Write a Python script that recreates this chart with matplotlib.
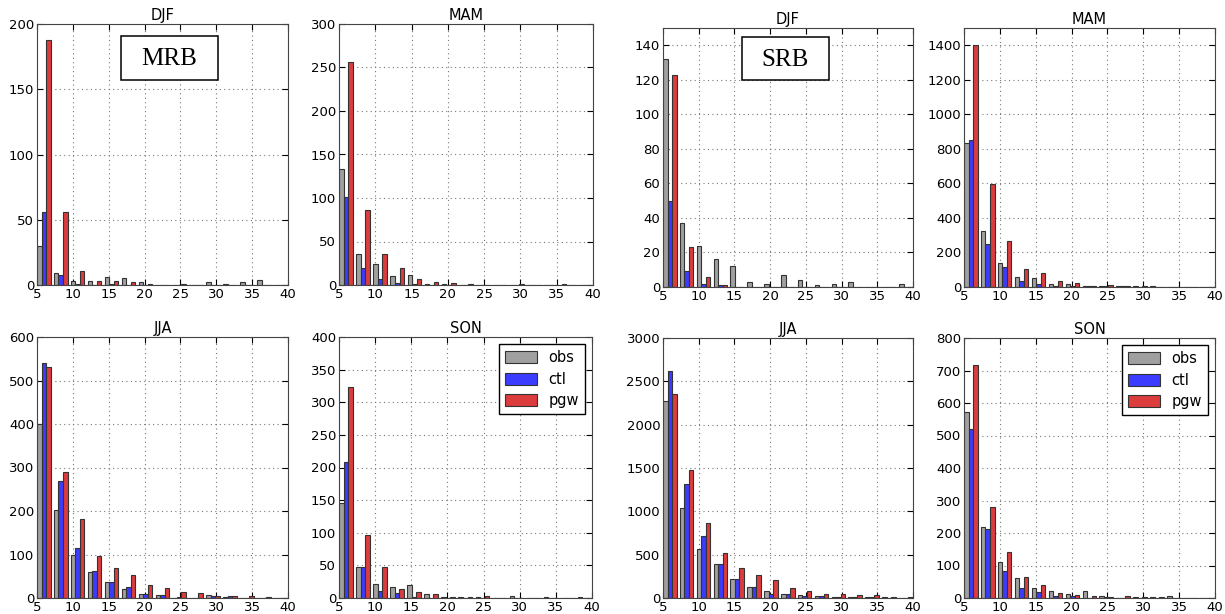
import numpy as np
import matplotlib
matplotlib.use('Agg')
import matplotlib.pyplot as plt
from matplotlib.patches import Rectangle

# histogram bin edges (15 bins)
bin_edges = np.linspace(4.77, 40.17, 16)

# MRB counts per bin
mrb_djf_obs = [30, 9, 3, 3, 6, 5, 2, 0, 0, 0, 2, 1, 2, 4, 0]
mrb_djf_ctl = [56, 8, 1, 0, 1, 0, 0, 0, 0, 0, 0, 0, 0, 0, 0]
mrb_djf_pgw = [188, 56, 11, 3, 3, 2, 1, 0, 1, 0, 0, 0, 0, 0, 0]

mrb_mam_obs = [133, 36, 24, 10, 11, 1, 1, 0, 0, 0, 0, 0, 0, 1, 0]
mrb_mam_ctl = [101, 20, 7, 2, 1, 0, 0, 0, 0, 0, 0, 0, 0, 0, 0]
mrb_mam_pgw = [256, 86, 36, 20, 7, 3, 2, 1, 0, 0, 1, 0, 0, 0, 0]

mrb_jja_obs = [401, 203, 100, 59, 36, 21, 10, 8, 1, 1, 6, 2, 1, 1, 1]
mrb_jja_ctl = [540, 268, 115, 62, 36, 25, 10, 8, 2, 1, 5, 5, 1, 1, 1]
mrb_jja_pgw = [531, 290, 181, 96, 69, 52, 29, 24, 14, 12, 5, 5, 5, 3, 0]

mrb_son_obs = [146, 47, 22, 17, 20, 6, 1, 1, 1, 0, 3, 0, 1, 0, 1]
mrb_son_ctl = [208, 48, 10, 7, 2, 0, 0, 0, 0, 0, 0, 0, 0, 0, 0]
mrb_son_pgw = [323, 97, 47, 14, 9, 6, 2, 2, 3, 0, 0, 0, 0, 0, 0]

# SRB counts per bin
srb_djf_obs = [132, 37, 24, 16, 12, 3, 2, 7, 4, 1, 2, 3, 0, 0, 2]
srb_djf_ctl = [50, 9, 2, 1, 0, 0, 0, 0, 0, 0, 0, 0, 0, 0, 0]
srb_djf_pgw = [123, 23, 6, 1, 0, 0, 0, 0, 0, 0, 0, 0, 0, 0, 0]

srb_mam_obs = [836, 322, 141, 56, 50, 15, 19, 7, 7, 4, 3, 3, 2, 2, 2]
srb_mam_ctl = [850, 249, 114, 33, 15, 8, 6, 4, 4, 3, 0, 0, 2, 0, 0]
srb_mam_pgw = [1400, 597, 264, 104, 79, 35, 23, 7, 9, 7, 7, 2, 2, 2, 2]

srb_jja_obs = [2275, 1041, 563, 389, 216, 127, 85, 50, 35, 23, 12, 12, 10, 6, 5]
srb_jja_ctl = [2622, 1315, 710, 389, 216, 127, 42, 50, 27, 19, 10, 8, 6, 4, 4]
srb_jja_pgw = [2352, 1477, 860, 521, 351, 266, 204, 120, 85, 46, 42, 35, 31, 15, 15]

srb_son_obs = [572, 217, 110, 62, 32, 22, 11, 22, 6, 0, 2, 2, 6, 0, 0]
srb_son_ctl = [520, 213, 83, 31, 20, 7, 7, 0, 3, 0, 0, 0, 0, 0, 0]
srb_son_pgw = [718, 279, 142, 65, 39, 15, 10, 6, 3, 5, 2, 4, 0, 0, 0]

labels = ['obs', 'ctl', 'pgw']
colors = ['#a0a0a0', '#3c3cff', '#dc3c3c']

# (title, obs, ctl, pgw, ymax, ystep, axes rect in pixels [x0, y0, x1, y1])
panels = [
    ('DJF', mrb_djf_obs, mrb_djf_ctl, mrb_djf_pgw, 200, 50, (37, 24, 288, 285)),
    ('MAM', mrb_mam_obs, mrb_mam_ctl, mrb_mam_pgw, 300, 50, (339, 24, 593, 285)),
    ('JJA', mrb_jja_obs, mrb_jja_ctl, mrb_jja_pgw, 600, 100, (37, 337, 288, 598)),
    ('SON', mrb_son_obs, mrb_son_ctl, mrb_son_pgw, 400, 50, (339, 337, 592, 598)),
    ('DJF', srb_djf_obs, srb_djf_ctl, srb_djf_pgw, 150, 20, (663, 28, 913, 287)),
    ('MAM', srb_mam_obs, srb_mam_ctl, srb_mam_pgw, 1500, 200, (964, 28, 1215, 287)),
    ('JJA', srb_jja_obs, srb_jja_ctl, srb_jja_pgw, 3000, 500, (663, 338, 913, 598)),
    ('SON', srb_son_obs, srb_son_ctl, srb_son_pgw, 800, 100, (964, 338, 1215, 598)),
]

W, H = 1225, 614
fig = plt.figure(figsize=(W / 100, H / 100), dpi=100)

centers = (bin_edges[:-1] + bin_edges[1:]) / 2
axes = []
for title, obs, ctl, pgw, ymax, ystep, (x0, y0, x1, y1) in panels:
    ax = fig.add_axes([x0 / W, 1 - y1 / H, (x1 - x0) / W, (y1 - y0) / H])
    ax.hist([centers, centers, centers], bins=bin_edges, weights=[obs, ctl, pgw],
            color=colors, label=labels, edgecolor='#333333', linewidth=0.8)
    ax.set_xlim(5, 40)
    ax.set_ylim(0, ymax)
    ax.set_xticks(np.arange(5, 41, 5))
    ax.set_yticks(np.arange(0, ymax + 1, ystep))
    ax.grid(True, linestyle=(0, (1, 3)), color='#777777', linewidth=0.8)
    ax.set_axisbelow(True)
    ax.tick_params(direction='in', labelsize=9.5, length=4, top=True, right=True, pad=2)
    for s in ax.spines.values():
        s.set_color('#444444')
    ax.set_title(title, fontsize=10.5, pad=3)
    axes.append(ax)

# region name boxes: (axes index, name, box in axes fraction x0, y0, x1, y1)
for i, name, (bx0, by0, bx1, by1) in [(0, 'MRB', (0.335, 0.785, 0.721, 0.954)),
                                      (4, 'SRB', (0.316, 0.799, 0.664, 0.965))]:
    ax = axes[i]
    ax.add_patch(Rectangle((bx0, by0), bx1 - bx0, by1 - by0, transform=ax.transAxes,
                           facecolor='white', edgecolor='black', linewidth=1.1, zorder=5))
    ax.text((bx0 + bx1) / 2, (by0 + by1) / 2 - 0.005, name, transform=ax.transAxes,
            ha='center', va='center', fontsize=18, family='Liberation Serif', zorder=6)

for ax in (axes[3], axes[7]):
    ax.legend(loc='upper right', fontsize=10.5, handlelength=2.2, handleheight=0.9,
              fancybox=False, edgecolor='black', framealpha=1, borderpad=0.4,
              labelspacing=0.45)

fig.savefig('out.png', dpi=100)
